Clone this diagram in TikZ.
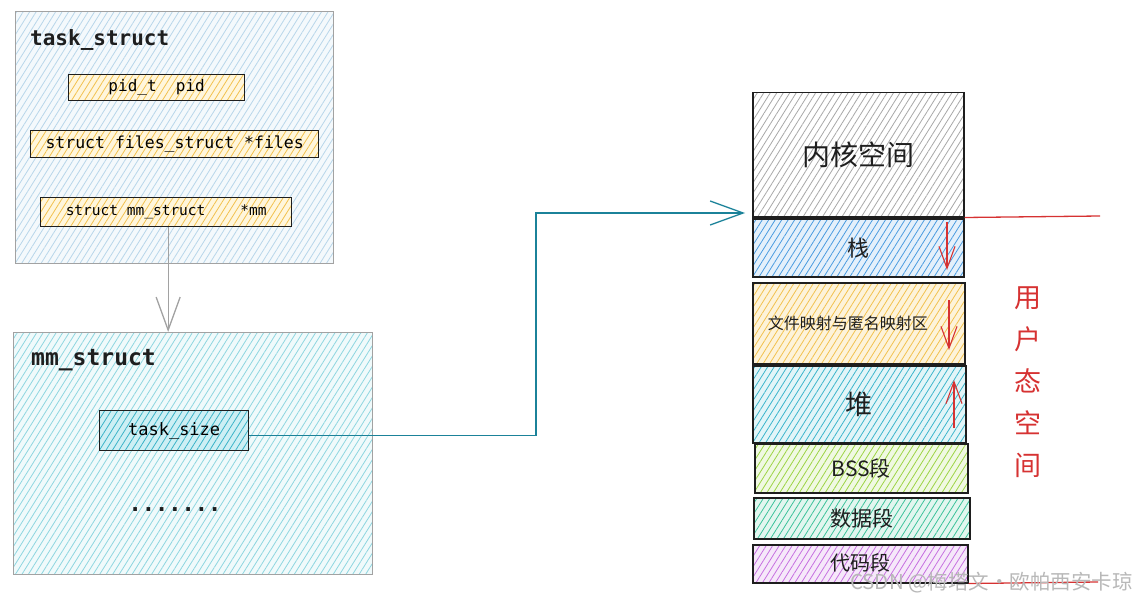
\documentclass[tikz,border=0pt]{standalone}
\usepackage{fontspec}
\setmonofont{DejaVu Sans Mono}
\newfontfamily\cjk{Noto Sans CJK SC}
\usetikzlibrary{patterns.meta,arrows.meta}
\definecolor{tsbg}{HTML}{F4F9FC}
\definecolor{tshatch}{HTML}{B8D6EA}
\definecolor{ylhatch}{HTML}{F2C14E}
\definecolor{ylbg}{HTML}{FFF6DC}
\definecolor{mmhatch}{HTML}{8ED6E0}
\definecolor{mmbg}{HTML}{F0FAFB}
\definecolor{tzhatch}{HTML}{3AB3C8}
\definecolor{tzbg}{HTML}{CDEFF4}
\definecolor{kghatch}{HTML}{A8A8A8}
\definecolor{stkhatch}{HTML}{4A9BE0}
\definecolor{stkbg}{HTML}{E4F0FB}
\definecolor{mapbg}{HTML}{FDF3DA}
\definecolor{heaphatch}{HTML}{3BB5CC}
\definecolor{heapbg}{HTML}{E2F5F8}
\definecolor{bsshatch}{HTML}{9CD444}
\definecolor{bssbg}{HTML}{F0F9E2}
\definecolor{datahatch}{HTML}{3CC29A}
\definecolor{databg}{HTML}{E2F6EF}
\definecolor{codehatch}{HTML}{C670E0}
\definecolor{codebg}{HTML}{F6E8FA}
\definecolor{link}{HTML}{1B8299}
\definecolor{redc}{HTML}{D63232}
\definecolor{outer}{HTML}{A2A2A2}
\definecolor{ink}{HTML}{1E1E1E}
\tikzset{
  hatch/.style 2 args={preaction={fill=#2}, pattern={Lines[angle=58,distance=5.5pt,line width=0.8pt]}, pattern color=#1},
  outerbox/.style={draw=outer, line width=1.4pt, rectangle, inner sep=0pt, anchor=north west},
  fieldbox/.style={draw=ink, line width=1.3pt, rectangle, inner sep=0pt, anchor=north west, font=\ttfamily},
  membox/.style={draw=ink, line width=1.5pt, rectangle, inner sep=0pt, anchor=north west, font=\cjk, text=ink},
  title/.style={anchor=west, font=\ttfamily\bfseries, inner sep=0pt, text=ink},
  barb/.style={-{Straight Barb[length=33pt,width=24pt,line width=1.3pt]}},
  redarrow/.style={draw=redc, line width=1.2pt, -{Straight Barb[length=22pt,width=16pt,line width=1.1pt]}},
}
\begin{document}
\begin{tikzpicture}[x=1pt,y=-1pt]
\useasboundingbox (0,0) rectangle (1135,599);
% task_struct
\node[outerbox, hatch={tshatch}{tsbg}, minimum width=318pt, minimum height=252pt] (ts) at (15,11) {};
\node[title, font=\ttfamily\bfseries\fontsize{21}{24}\selectfont] (tstitle) at (30,40) {task\_struct};
\node[fieldbox, hatch={ylhatch}{ylbg}, minimum width=176pt, minimum height=26pt, font=\ttfamily\fontsize{16}{18}\selectfont] (pid) at (68,74) {pid\_t~~pid};
\node[fieldbox, hatch={ylhatch}{ylbg}, minimum width=288pt, minimum height=27pt, font=\ttfamily\fontsize{16.5}{18}\selectfont] (files) at (30,130) {struct files\_struct *files};
\node[fieldbox, hatch={ylhatch}{ylbg}, minimum width=251pt, minimum height=29pt, font=\ttfamily\fontsize{14.5}{16}\selectfont] (mm) at (40,197) {struct mm\_struct~~~~*mm};
% mm_struct
\node[outerbox, hatch={mmhatch}{mmbg}, minimum width=359pt, minimum height=242pt] (mms) at (13,332) {};
\node[title, font=\ttfamily\bfseries\fontsize{23}{26}\selectfont] (mmtitle) at (31,360) {mm\_struct};
\node[fieldbox, hatch={tzhatch}{tzbg}, minimum width=149pt, minimum height=40pt, font=\ttfamily\fontsize{17}{19}\selectfont] (tsize) at (99,410) {task\_size};
\node[font=\ttfamily\bfseries\fontsize{22}{24}\selectfont, inner sep=0pt, text=ink] (dots) at (175,510) {.......};
% gray arrow
\draw[outer, line width=1.3pt, barb] ([xshift=2pt]mm.south) -- ([xshift=2pt]mm.south |- mms.north);
% memory layout
\node[membox, hatch={kghatch}{white}, minimum width=211pt, minimum height=124pt, font=\cjk\fontsize{28}{30}\selectfont] (kern) at (752,92) {内核空间};
\node[membox, hatch={stkhatch}{stkbg}, minimum width=211pt, minimum height=58pt, font=\cjk\fontsize{22}{24}\selectfont] (stack) at (752,218) {栈};
\node[membox, hatch={ylhatch}{mapbg}, minimum width=212pt, minimum height=81pt, font=\cjk\fontsize{16}{18}\selectfont] (mapz) at (752,282) {文件映射与匿名映射区\hspace*{22pt}};
\node[membox, hatch={heaphatch}{heapbg}, minimum width=213pt, minimum height=77pt, font=\cjk\fontsize{27}{29}\selectfont] (heap) at (752,365) {堆};
\node[membox, hatch={bsshatch}{bssbg}, minimum width=213pt, minimum height=49pt, font=\cjk\fontsize{21}{23}\selectfont] (bss) at (754,443) {BSS段};
\node[membox, hatch={datahatch}{databg}, minimum width=216pt, minimum height=41pt, font=\cjk\fontsize{21}{23}\selectfont] (data) at (753,497) {数据段};
\node[membox, hatch={codehatch}{codebg}, minimum width=215pt, minimum height=38pt, font=\cjk\fontsize{20}{22}\selectfont] (code) at (752,544) {\raisebox{4pt}{代码段}};
% teal connector
\coordinate (tgt) at (745,213);
\coordinate (bend2) at (536,213);
\draw[link, line width=1.4pt, barb] ([yshift=-5pt]tsize.east) -| (bend2) -- (tgt);
% red growth arrows
\coordinate (s1) at (947,222); \coordinate (s2) at (947,270);
\coordinate (m1) at (949,300); \coordinate (m2) at (949,350);
\coordinate (h1) at (954,428); \coordinate (h2) at (954,380);
\draw[redarrow] (s1) -- (s2);
\draw[redarrow] (m1) -- (m2);
\draw[redarrow] (h1) -- (h2);
% red boundary lines
\coordinate (rt) at (1100,216);
\coordinate (rb) at (1098,582);
\draw[redc, line width=1.3pt] (kern.south east) -- (rt);
\draw[redc, line width=1.3pt] (code.south east) -- (rb);
% user-space label
\node[text=redc, font=\cjk\fontsize{27}{42}\selectfont, align=center, inner sep=0pt] (user) at (1028,382) {用\\户\\态\\空\\间};
% watermark
\node[anchor=east, text=black!28, font=\cjk\fontsize{20.5}{22}\selectfont, inner sep=0pt] (wm) at (1133,583) {CSDN @梅塔文·欧帕西安卡琼};
\end{tikzpicture}
\end{document}
